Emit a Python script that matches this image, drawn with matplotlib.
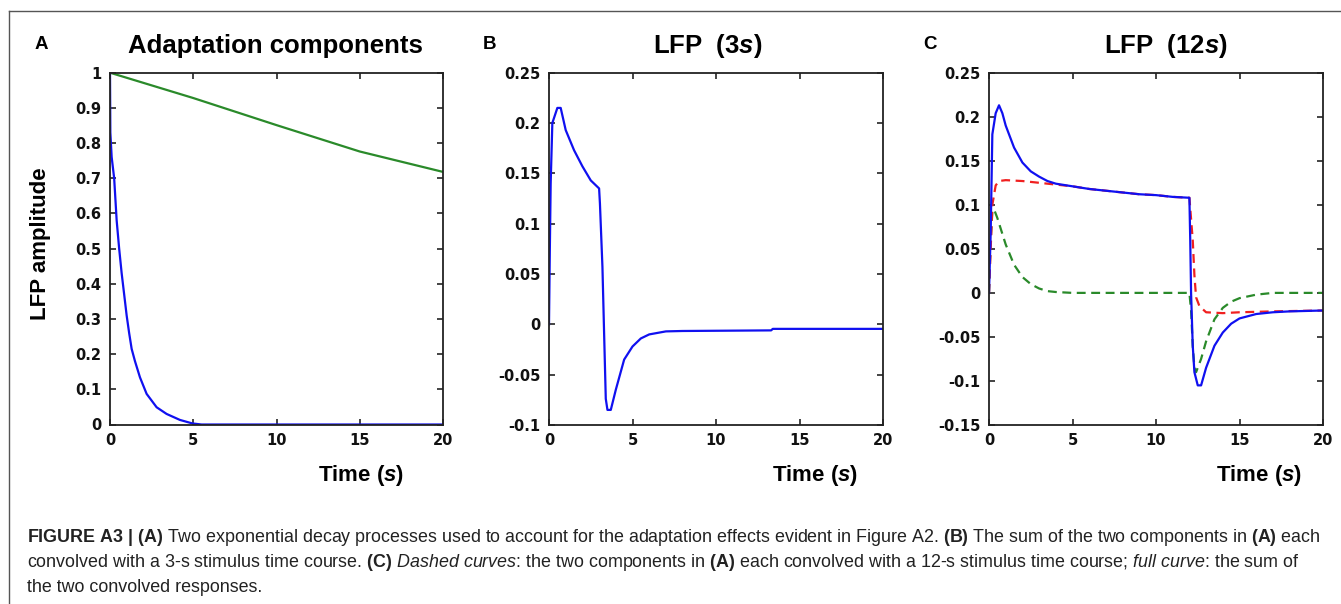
import matplotlib
matplotlib.use("Agg")
import matplotlib.pyplot as plt
from matplotlib.lines import Line2D

W, H = 1341, 604

# ---- panel A: adaptation components ----
a_t_fast = [0, 0.02, 0.1, 0.25, 0.4, 0.55, 0.7, 0.85, 1.0, 1.15, 1.3, 1.5, 1.8, 2.2, 2.8, 3.4, 4.2,
            4.95, 5.5, 10, 15, 20]
a_fast = [1.0, 0.83, 0.76, 0.70, 0.58, 0.50, 0.43, 0.37, 0.31, 0.26, 0.215, 0.18, 0.134, 0.087,
          0.049, 0.030, 0.013, 0.003, 0.0, 0.0, 0.0, 0.0]
a_t_slow = [0, 5, 10, 15, 20]
a_slow = [1.0, 0.928, 0.851, 0.776, 0.718]

# ---- panel B: LFP for 3 s stimulus ----
b_t = [0, 0.05, 0.1, 0.2, 0.5, 0.7, 1.0, 1.5, 2.0, 2.5, 3.0, 3.05, 3.2, 3.3, 3.4, 3.5, 3.7,
       4.0, 4.5, 5.0, 5.5, 6.0, 7.0, 8.0, 13.3, 13.4, 20]
b_lfp = [0, 0.074, 0.14, 0.20, 0.215, 0.215, 0.193, 0.173, 0.157, 0.143, 0.135, 0.12, 0.057, -0.009,
         -0.074, -0.085, -0.085, -0.065, -0.035, -0.022, -0.014, -0.010, -0.007, -0.0066, -0.006,
         -0.0045, -0.0045]

# ---- panel C: LFP for 12 s stimulus ----
c_t = [0, 0.1, 0.2, 0.4, 0.6, 0.8, 1.0, 1.5, 2.0, 2.5, 3.0, 3.5, 4, 5, 6, 7, 8, 9, 10, 11, 12,
       12.05, 12.1, 12.2, 12.3, 12.5, 12.7, 13, 13.5, 14, 14.5, 15, 16, 17, 18, 20]
c_sum = [0, 0.068, 0.18, 0.204, 0.213, 0.204, 0.19, 0.165, 0.148, 0.138, 0.132, 0.127, 0.124,
         0.121, 0.118, 0.116, 0.114, 0.112, 0.111, 0.109, 0.108, 0.06, 0.0, -0.06, -0.09, -0.105,
         -0.105, -0.085, -0.06, -0.045, -0.035, -0.029, -0.024, -0.022, -0.021, -0.02]
c_t_slow = [0, 0.1, 0.2, 0.4, 0.6, 1, 2, 3, 4, 5, 6, 7, 8, 9, 10, 11, 12, 12.2, 12.3, 12.4, 12.6,
            13, 14, 15, 17, 20]
c_slow = [0, 0.05, 0.10, 0.122, 0.127, 0.128, 0.127, 0.125, 0.123, 0.121, 0.118, 0.116, 0.114,
          0.112, 0.111, 0.109, 0.108, 0.06, 0.02, -0.005, -0.015, -0.022, -0.023, -0.022, -0.021, -0.02]
c_t_fast = [0, 0.1, 0.2, 0.3, 0.5, 1, 1.5, 2, 2.5, 3, 3.5, 4, 5, 12, 12.1, 12.2, 12.3, 12.4, 12.7,
            13, 13.5, 14, 14.5, 15, 16, 17, 20]
c_fast = [0, 0.06, 0.092, 0.095, 0.085, 0.055, 0.032, 0.018, 0.010, 0.005, 0.002, 0.001, 0.0, 0.0,
          -0.02, -0.06, -0.085, -0.09, -0.075, -0.055, -0.03, -0.017, -0.01, -0.006, -0.002, 0.0, 0.0]

x_ticks = [0, 5, 10, 15, 20]
a_yticks = [0, 0.1, 0.2, 0.3, 0.4, 0.5, 0.6, 0.7, 0.8, 0.9, 1]
b_yticks = [-0.1, -0.05, 0, 0.05, 0.1, 0.15, 0.2, 0.25]
c_yticks = [-0.15, -0.1, -0.05, 0, 0.05, 0.1, 0.15, 0.2, 0.25]

caption_lines = [
    r"$\mathbf{FIGURE\ A3\ |\ (A)}$ Two exponential decay processes used to account for the "
    r"adaptation effects evident in Figure A2. $\mathbf{(B)}$ The sum of the two components in "
    r"$\mathbf{(A)}$ each",
    r"convolved with a 3-s stimulus time course. $\mathbf{(C)}$ $\mathit{Dashed\ curves}$: the two "
    r"components in $\mathbf{(A)}$ each convolved with a 12-s stimulus time course; "
    r"$\mathit{full\ curve}$: the sum of",
    "the two convolved responses.",
]

BLUE = "#1010f0"
GREEN = "#2a8a2a"
RED = "#f02020"

plt.rcParams["font.family"] = "Liberation Sans"
plt.rcParams["mathtext.fontset"] = "custom"
plt.rcParams["mathtext.it"] = "Liberation Sans:italic"
plt.rcParams["mathtext.bf"] = "Liberation Sans:bold"
plt.rcParams["mathtext.sf"] = "Liberation Sans:italic:bold"
plt.rcParams["mathtext.rm"] = "Liberation Sans"

fig = plt.figure(figsize=(W / 100, H / 100), dpi=100)


def px_axes(left, right, top, bottom):
    return fig.add_axes([left / W, 1 - bottom / H, (right - left) / W, (bottom - top) / H])


def style(ax, yticks, ylim, ylabels):
    ax.set_xlim(0, 20)
    ax.set_ylim(*ylim)
    ax.set_xticks(x_ticks)
    ax.set_xticklabels([str(v) for v in x_ticks])
    ax.set_yticks(yticks)
    ax.set_yticklabels(ylabels)
    ax.tick_params(direction="in", length=4, width=1.1, top=True, right=True, pad=6,
                   labelsize=10.5, colors="#111111")
    for lab in ax.get_xticklabels() + ax.get_yticklabels():
        lab.set_fontweight("bold")
        lab.set_family("DejaVu Sans")
    for sp in ax.spines.values():
        sp.set_linewidth(1.3)
        sp.set_color("#222222")


axA = px_axes(110, 443, 72.7, 424.5)
axA.plot(a_t_slow, a_slow, color=GREEN, lw=1.6)
axA.plot(a_t_fast, a_fast, color=BLUE, lw=1.6)
style(axA, a_yticks, (0, 1), ["0", "0.1", "0.2", "0.3", "0.4", "0.5", "0.6", "0.7", "0.8", "0.9", "1"])

axB = px_axes(549, 883, 72.7, 425)
axB.plot(b_t, b_lfp, color=BLUE, lw=1.6)
style(axB, b_yticks, (-0.1, 0.25), ["-0.1", "-0.05", "0", "0.05", "0.1", "0.15", "0.2", "0.25"])

axC = px_axes(989, 1323, 72.7, 425)
axC.plot(c_t_fast, c_fast, color=GREEN, lw=1.6, dashes=(4, 2.5))
axC.plot(c_t_slow, c_slow, color=RED, lw=1.6, dashes=(4, 2.5))
axC.plot(c_t, c_sum, color=BLUE, lw=1.6)
style(axC, c_yticks, (-0.15, 0.25), ["-0.15", "-0.1", "-0.05", "0", "0.05", "0.1", "0.15", "0.2", "0.25"])


def ftext(x, y, s, **kw):
    return fig.text(x / W, 1 - y / H, s, **kw)


# panel letters, titles, axis labels
for letter, x in [("A", 35), ("B", 483), ("C", 923)]:
    ftext(x, 49, letter, fontsize=13.5, fontweight="bold", va="baseline", ha="left")
ftext(275, 53, "Adaptation components", fontsize=18.5, fontweight="bold", ha="center", va="baseline")
ftext(708, 53, r"LFP  (3$\mathsf{s}$)", fontsize=18.5, fontweight="bold", ha="center", va="baseline")
ftext(1166, 53, r"LFP  (12$\mathsf{s}$)", fontsize=18.5, fontweight="bold", ha="center", va="baseline")
for x in [361, 815, 1259]:
    ftext(x, 481, r"Time ($\mathsf{s}$)", fontsize=16, fontweight="bold", ha="center", va="baseline")
ftext(41, 244, "LFP amplitude", fontsize=16, fontweight="bold", rotation=90, ha="center", va="center")

# frame lines
fig.add_artist(Line2D([9 / W, 1], [1 - 11 / H, 1 - 11 / H], transform=fig.transFigure,
                      color="#555555", lw=1))
fig.add_artist(Line2D([9 / W, 9 / W], [0, 1 - 11 / H], transform=fig.transFigure,
                      color="#555555", lw=1))

# caption, font size fitted so the first line spans the figure width
cap_base = [542, 567, 592]
renderer = fig.canvas.get_renderer()
probe = ftext(27, cap_base[0], caption_lines[0], fontsize=12, va="baseline")
width = probe.get_window_extent(renderer).width
probe.remove()
fs = 12 * 1290 / width
for s, y in zip(caption_lines, cap_base):
    ftext(27, y, s, fontsize=fs, va="baseline", ha="left", color="#222222")

fig.savefig("out.png", dpi=100)
